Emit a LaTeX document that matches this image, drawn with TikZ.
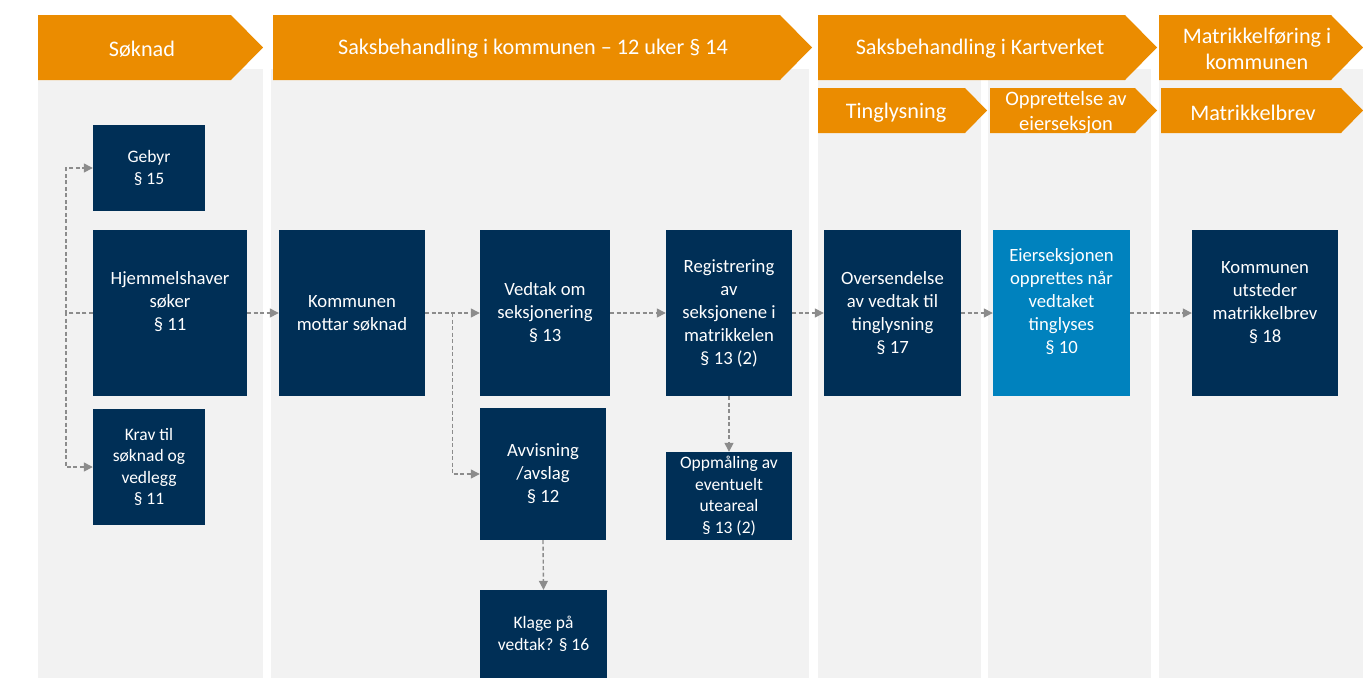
\documentclass[tikz,border=0pt]{standalone}
\usepackage{fontspec}
\setmainfont{Carlito}
\usetikzlibrary{arrows.meta,calc}
\definecolor{orangeh}{RGB}{235,140,0}
\definecolor{navy}{RGB}{0,47,86}
\definecolor{lblue}{RGB}{0,130,190}
\definecolor{bggray}{RGB}{242,242,242}
\definecolor{conngray}{RGB}{140,140,140}
\tikzset{
  box/.style={fill=navy, text=white, inner sep=0pt, align=center, font=\fontsize{18.7}{23}\selectfont},
  sbox/.style={box, font=\fontsize{17.5}{21.5}\selectfont},
  conn/.style={draw=conngray, line width=1.4pt, dash pattern=on 4pt off 2.5pt, -{Triangle[length=9pt,width=9pt]}},
  hdr/.style={fill=orangeh},
  htext/.style={text=white, inner sep=0pt, align=center, font=\fontsize{22.2}{26}\selectfont},
  colbg/.style={fill=bggray}
}
\begin{document}
\begin{tikzpicture}[x=1pt,y=-1pt]
\useasboundingbox (0,0) rectangle (1363,678);
\fill[white] (0,0) rectangle (1363,678);
% column backgrounds
\fill[colbg] (38,69) rectangle (263,678);
\fill[colbg] (271,69) rectangle (809,678);
\fill[colbg] (818,69) rectangle (981,678);
\fill[colbg] (988,69) rectangle (1151,678);
\fill[colbg] (1159,69) rectangle (1363,678);
% main headers
\fill[hdr] (38,15) -- (231,15) -- (263,47.5) -- (231,80) -- (38,80) -- cycle;
\fill[hdr] (273,15) -- (780,15) -- (812,47.5) -- (780,80) -- (273,80) -- cycle;
\fill[hdr] (818,15) -- (1125,15) -- (1157,47.5) -- (1125,80) -- (818,80) -- cycle;
\fill[hdr] (1159,15) -- (1331,15) -- (1363,47.5) -- (1331,80) -- (1159,80) -- cycle;
\node[htext] (h1) at (142,49) {Søknad};
\node[htext] (h2) at (533,49) {Saksbehandling i kommunen – 12 uker § 14};
\node[htext] (h3) at (980,49) {Saksbehandling i Kartverket};
\node[htext] (h4) at (1257,49) {Matrikkelføring i\\kommunen};
% sub headers
\fill[hdr] (818,88) -- (965,88) -- (987,110.5) -- (965,133) -- (818,133) -- cycle;
\fill[hdr] (990,88) -- (1135,88) -- (1157,110.5) -- (1135,133) -- (990,133) -- cycle;
\fill[hdr] (1161,88) -- (1341,88) -- (1363,110.5) -- (1341,133) -- (1161,133) -- cycle;
\node[htext] (s1) at (896,112.5) {Tinglysning};
\node[htext, font=\fontsize{20.5}{25}\selectfont] (s2) at (1066,113) {Opprettelse av\\eierseksjon};
\node[htext] (s3) at (1253,112.5) {Matrikkelbrev};
% boxes
\node[sbox, minimum width=112pt, minimum height=86pt] (geb) at (149,168) {Gebyr\\§ 15};
\node[box, minimum width=154pt, minimum height=166pt] (hj) at (170,313) {Hjemmelshaver\\søker\\§ 11\\\mbox{}};
\node[sbox, minimum width=112pt, minimum height=116pt] (krav) at (149,467) {Krav til\\søknad og\\vedlegg\\§ 11};
\node[box, minimum width=146pt, minimum height=166pt] (kom) at (352,313) {Kommunen\\mottar søknad};
\node[box, minimum width=130pt, minimum height=166pt] (ved) at (545,313) {Vedtak om\\seksjonering\\§ 13};
\node[box, minimum width=126pt, minimum height=132pt] (avv) at (543,474) {Avvisning\\/avslag\\§ 12};
\node[sbox, minimum width=127pt, minimum height=88pt] (klage) at (543.5,634) {Klage på\\vedtak? § 16};
\node[box, minimum width=126pt, minimum height=166pt] (reg) at (729,313) {Registrering\\av\\seksjonene i\\matrikkelen\\§ 13 (2)};
\node[sbox, minimum width=126pt, minimum height=88pt] (opp) at (729,496) {Oppmåling av\\eventuelt\\uteareal\\§ 13 (2)};
\node[box, minimum width=137pt, minimum height=166pt] (ovs) at (892.5,313) {Oversendelse\\av vedtak til\\tinglysning\\§ 17};
\node[box, fill=lblue, minimum width=137pt, minimum height=166pt] (eier) at (1061.5,313) {Eierseksjonen\\opprettes når\\vedtaket\\tinglyses\\§ 10\\\mbox{}};
\node[box, minimum width=146pt, minimum height=166pt] (utst) at (1265,313) {Kommunen\\utsteder\\matrikkelbrev\\§ 18\\\mbox{}};
% connectors
\coordinate (hjl) at ($(hj.west)+(-27,0)$);
\draw[conn] (hj.west) -- (hjl) |- (geb.west);
\draw[conn] (hj.west) -- (hjl) |- (krav.west);
\draw[conn] (hj.east) -- (kom.west);
\coordinate (komr) at ($(kom.east)+(27,0)$);
\draw[conn] (kom.east) -- (ved.west);
\draw[conn] (komr) |- (avv.west);
\draw[conn] (ved.east) -- (reg.west);
\draw[conn] (reg.south) -- (opp.north);
\draw[conn] (avv.south) -- (klage.north);
\draw[conn] (reg.east) -- (ovs.west);
\draw[conn] (ovs.east) -- (eier.west);
\draw[conn] (eier.east) -- (utst.west);
\end{tikzpicture}
\end{document}
